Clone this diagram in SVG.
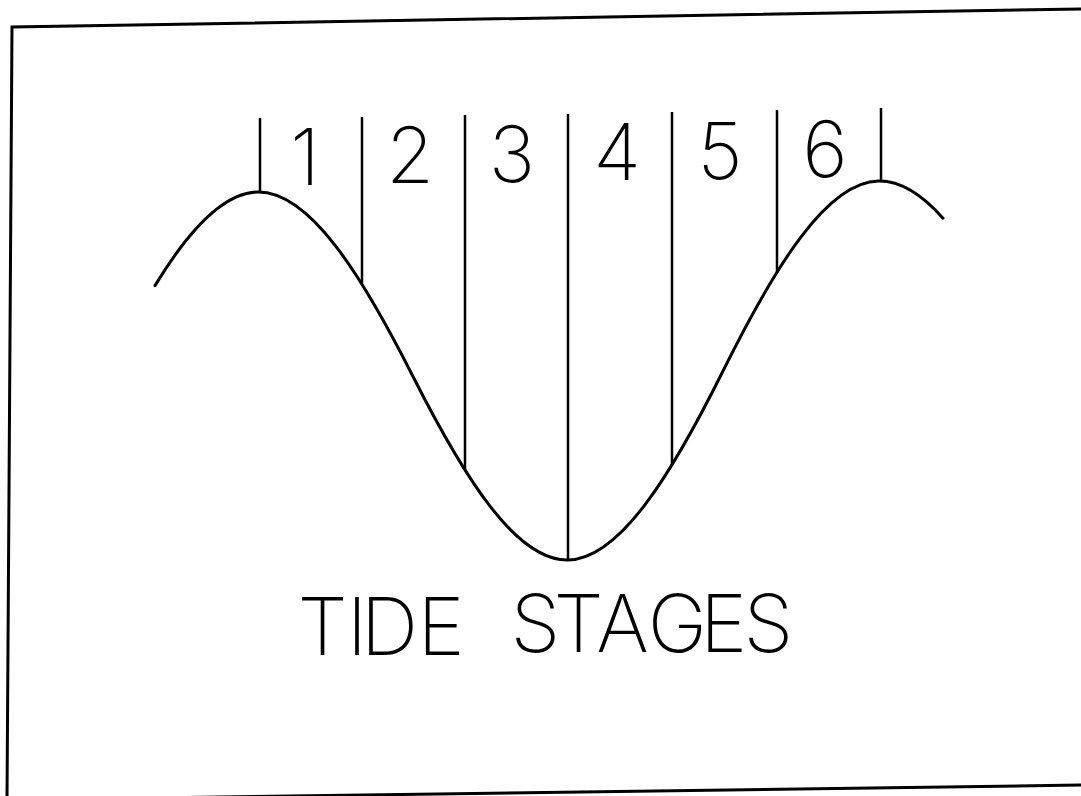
<svg xmlns="http://www.w3.org/2000/svg" width="1081" height="796" viewBox="0 0 1081 796">
<style>
.frame{fill:none;stroke:#000;stroke-width:3}
.curve{fill:none;stroke:#000;stroke-width:3;stroke-linejoin:round;stroke-linecap:round}
.div{stroke:#000;stroke-width:2.5}
.lbl{font-family:Inter,"Liberation Sans",sans-serif;font-weight:200;font-size:78px;fill:#000;text-anchor:middle}
.title{font-family:Inter,"Liberation Sans",sans-serif;font-weight:200;font-size:80px;fill:#000;text-anchor:middle}
</style>
<rect width="1081" height="796" fill="#fff"/>
<g id="frame">
<polyline class="frame" points="1081,9 12,27 7,800"/>
<line class="frame" x1="7" y1="800" x2="1081" y2="785"/>
</g>
<g id="connectors">
<path id="tide-curve" class="curve" d="M155,285.6 C189.17,229.4 223.33,192.6 257.5,192 C309.25,191.08 361,273.76 412.75,376 C464.5,478.24 516.25,560.92 568,560 C619.75,559.08 671.5,474.58 723.25,370.5 C775,266.42 826.75,181.92 878.5,181 C900,180.62 921.5,193.9 943,218.2"/>
<line class="div" x1="260" y1="118" x2="260" y2="192"/>
<line class="div" x1="362" y1="117" x2="362" y2="283"/>
<line class="div" x1="465" y1="115" x2="465" y2="470"/>
<line class="div" x1="568" y1="114" x2="568" y2="560"/>
<line class="div" x1="672" y1="112" x2="672" y2="465"/>
<line class="div" x1="777" y1="110" x2="777" y2="272"/>
<line class="div" x1="881" y1="108" x2="881" y2="181"/>
</g>
<g id="stage-1"><text class="lbl" x="305" y="185">1</text></g>
<g id="stage-2"><text class="lbl" x="410" y="183">2</text></g>
<g id="stage-3"><text class="lbl" x="512" y="182">3</text></g>
<g id="stage-4"><text class="lbl" x="617" y="180">4</text></g>
<g id="stage-5"><text class="lbl" x="720" y="179">5</text></g>
<g id="stage-6"><text class="lbl" x="825" y="177">6</text></g>
<g id="title">
<text class="title" x="322.5 357 389.5 441" y="655">TIDE</text>
<text class="title" x="535.5 578.5 622.5 677.5 723.5 768.5" y="652">STAGES</text>
</g>
</svg>
